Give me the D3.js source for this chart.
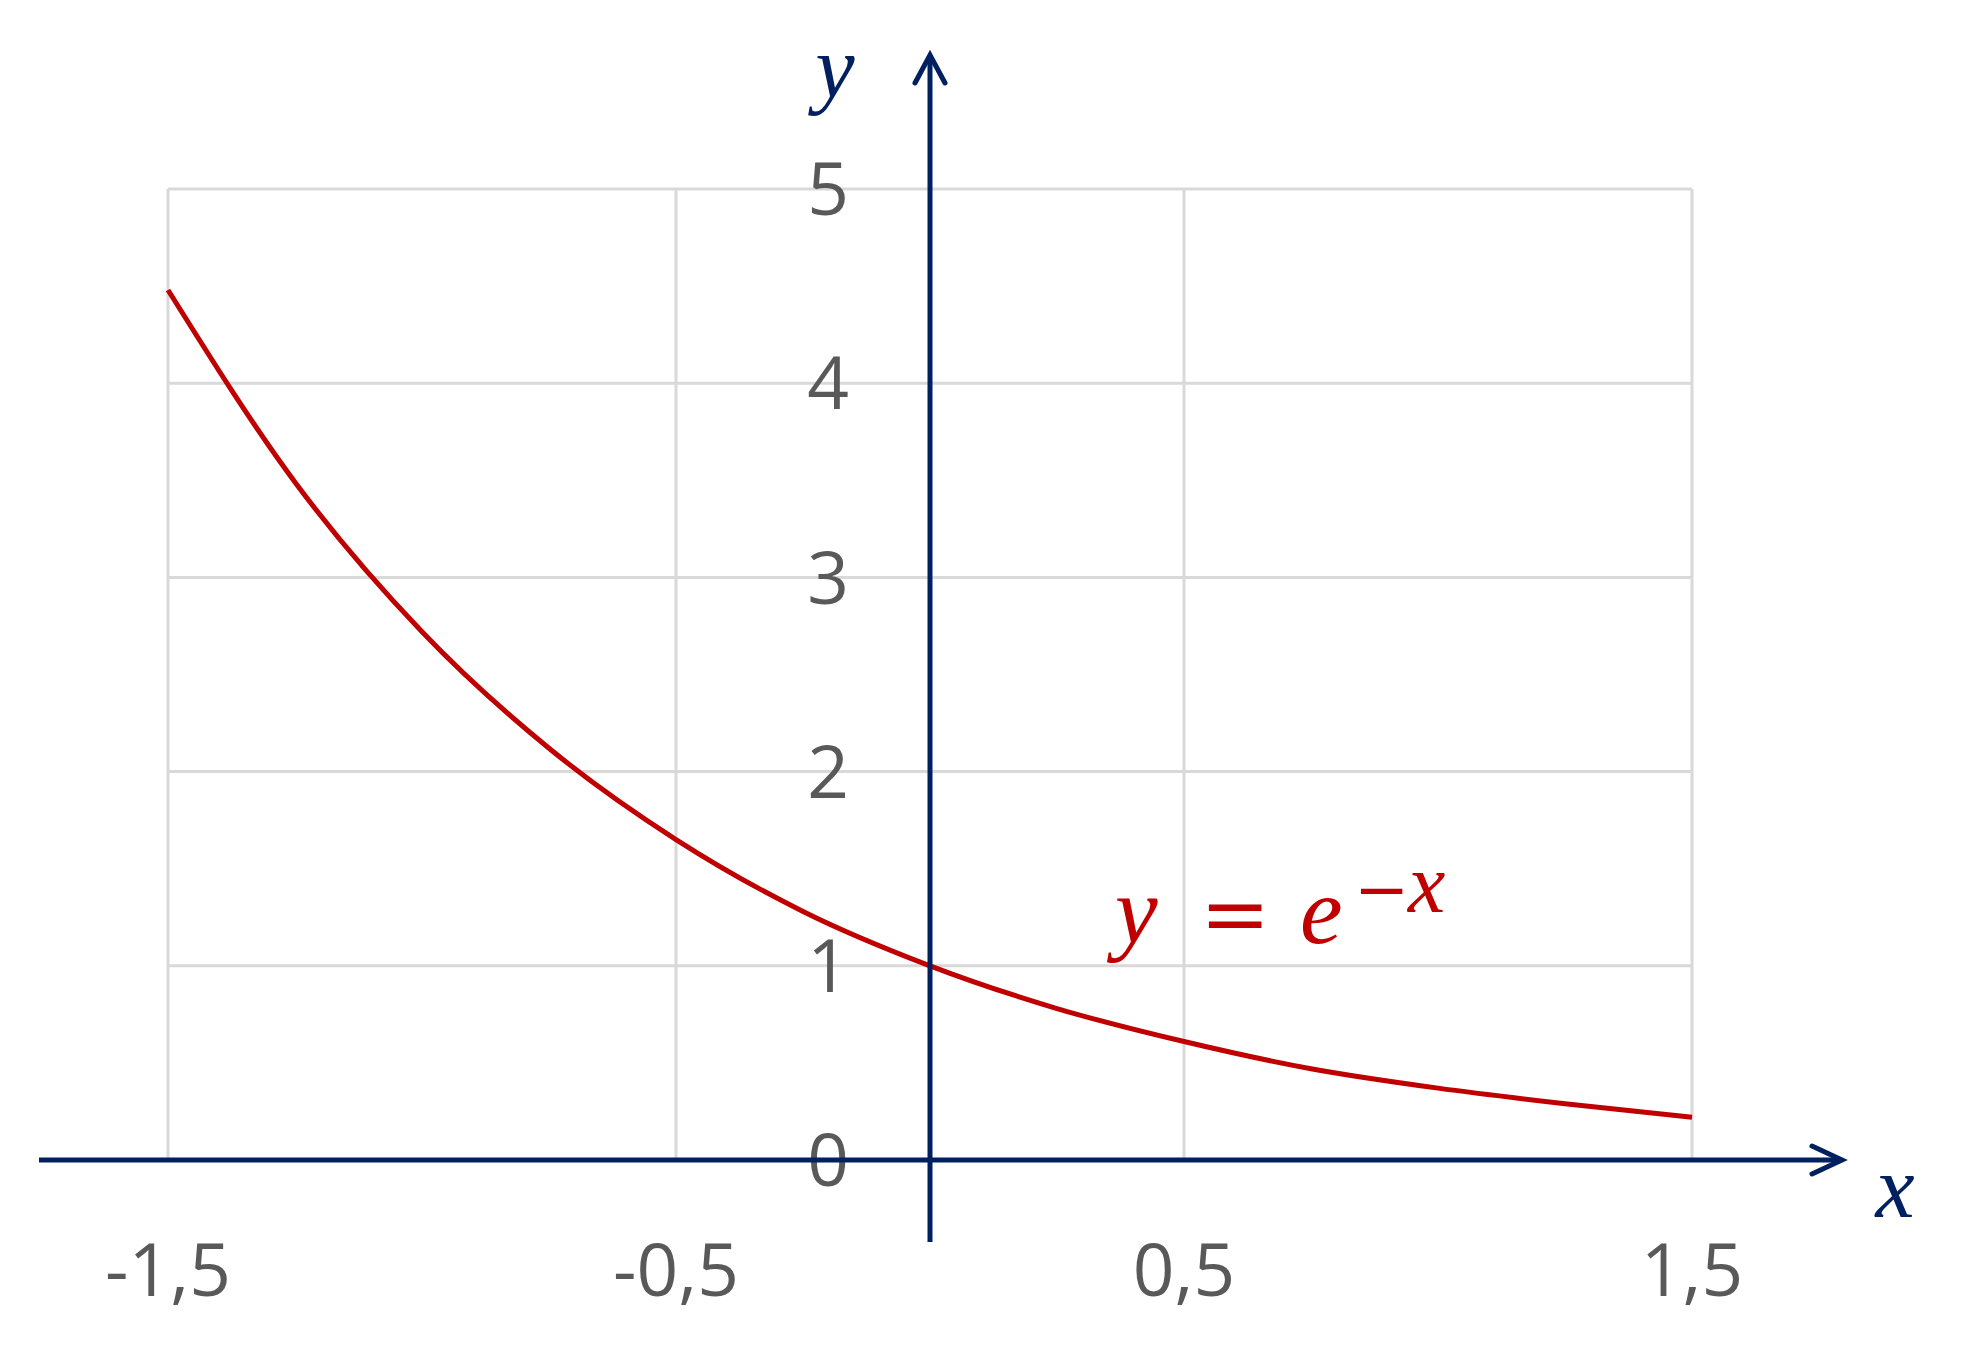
<!DOCTYPE html>
<html><head><meta charset="utf-8">
<script src="https://cdn.jsdelivr.net/npm/d3@7"></script>
<style>html,body{margin:0;padding:0;background:#fff;}</style>
</head><body>
<svg id="chart" width="1980" height="1365"></svg>
<script>
// Data
const xTicks = [-1.5, -0.5, 0.5, 1.5];
const xTickLabels = ["-1,5", "-0,5", "0,5", "1,5"];
const yTicks = [0, 1, 2, 3, 4, 5];
const yTickLabels = ["0", "1", "2", "3", "4", "5"];
const curveX = [-1.5, -1.25, -1.0, -0.75, -0.5, -0.25, 0, 0.25, 0.5, 0.75, 1.0, 1.25, 1.5];
const curveY = [4.48, 3.49, 2.72, 2.12, 1.65, 1.28, 1.00, 0.78, 0.61, 0.47, 0.37, 0.29, 0.22];

const svg = d3.select("#chart");
const x = d3.scaleLinear().domain([-1.5, 1.5]).range([168, 1692]);
const y = d3.scaleLinear().domain([0, 5]).range([1160, 189]);

const navy = "#002060", grid = "#d9d9d9", red = "#c00000", tickCol = "#595959";

// grid
const g = svg.append("g");
g.selectAll("line.v").data(xTicks).join("line")
  .attr("x1", d => x(d)).attr("x2", d => x(d))
  .attr("y1", y(5)).attr("y2", y(0))
  .attr("stroke", grid).attr("stroke-width", 3);
g.selectAll("line.h").data(yTicks.filter(d => d > 0)).join("line")
  .attr("x1", x(-1.5)).attr("x2", x(1.5))
  .attr("y1", d => y(d)).attr("y2", d => y(d))
  .attr("stroke", grid).attr("stroke-width", 3);

// y tick labels
svg.selectAll("text.yt").data(yTicks).join("text")
  .attr("x", 828).attr("y", d => y(d)).attr("dy", "0.36em")
  .attr("text-anchor", "middle")
  .attr("font-family", "'Open Sans', sans-serif").attr("font-size", 73)
  .attr("fill", tickCol).text((d, i) => yTickLabels[i]);

// x tick labels
svg.selectAll("text.xt").data(xTicks).join("text")
  .attr("x", d => x(d)).attr("y", 1270).attr("dy", "0.36em")
  .attr("text-anchor", "middle")
  .attr("font-family", "'Open Sans', sans-serif").attr("font-size", 73)
  .attr("fill", tickCol).text((d, i) => xTickLabels[i]);

// curve
const line = d3.line().x(d => x(d[0])).y(d => y(d[1])).curve(d3.curveMonotoneX);
svg.append("path").datum(curveX.map((v, i) => [v, curveY[i]]))
  .attr("d", line).attr("fill", "none").attr("stroke", red).attr("stroke-width", 5);

// axes
const x0 = x(0), y0 = y(0);
svg.append("line").attr("x1", 39).attr("x2", 1840).attr("y1", y0).attr("y2", y0)
  .attr("stroke", navy).attr("stroke-width", 5);
svg.append("line").attr("x1", x0).attr("x2", x0).attr("y1", 1242).attr("y2", 57)
  .attr("stroke", navy).attr("stroke-width", 5);
// arrowheads
svg.append("path").attr("d", `M${x0-15},${83} L${x0},${55} L${x0+15},${83}`)
  .attr("fill", "none").attr("stroke", navy).attr("stroke-width", 5)
  .attr("stroke-linecap", "round").attr("stroke-linejoin", "miter");
svg.append("path").attr("d", `M${1812},${y0-14} L${1842},${y0} L${1812},${y0+14}`)
  .attr("fill", "none").attr("stroke", navy).attr("stroke-width", 5)
  .attr("stroke-linecap", "round").attr("stroke-linejoin", "miter");

// axis labels
const serif = "'Liberation Serif', serif";
svg.append("text").attr("x", 835).attr("y", 97).attr("text-anchor", "middle")
  .attr("font-family", serif).attr("font-style", "italic")
  .attr("font-size", 88).attr("fill", navy).text("y");
svg.append("text").attr("x", 1895).attr("y", 1217).attr("text-anchor", "middle")
  .attr("font-family", serif).attr("font-style", "italic")
  .attr("font-size", 88).attr("fill", navy).text("x");

// formula
const f = svg.append("g").attr("fill", red);
f.append("text").attr("x", 1115).attr("y", 943).attr("font-family", serif).attr("font-style", "italic").attr("font-size", 96).text("y");
f.append("text").attr("x", 1200).attr("y", 943).attr("font-family", "'DejaVu Serif', serif").attr("font-size", 84).text("=");
f.append("text").attr("x", 1300).attr("y", 943).attr("font-family", serif).attr("font-style", "italic").attr("font-size", 96).text("e");
f.append("text").attr("x", 1354).attr("y", 912).attr("font-family", "'DejaVu Serif', serif").attr("font-size", 66).text("\u2212");
f.append("text").attr("x", 1408).attr("y", 912).attr("font-family", serif).attr("font-style", "italic").attr("font-size", 84).text("x");
</script>
</body></html>
